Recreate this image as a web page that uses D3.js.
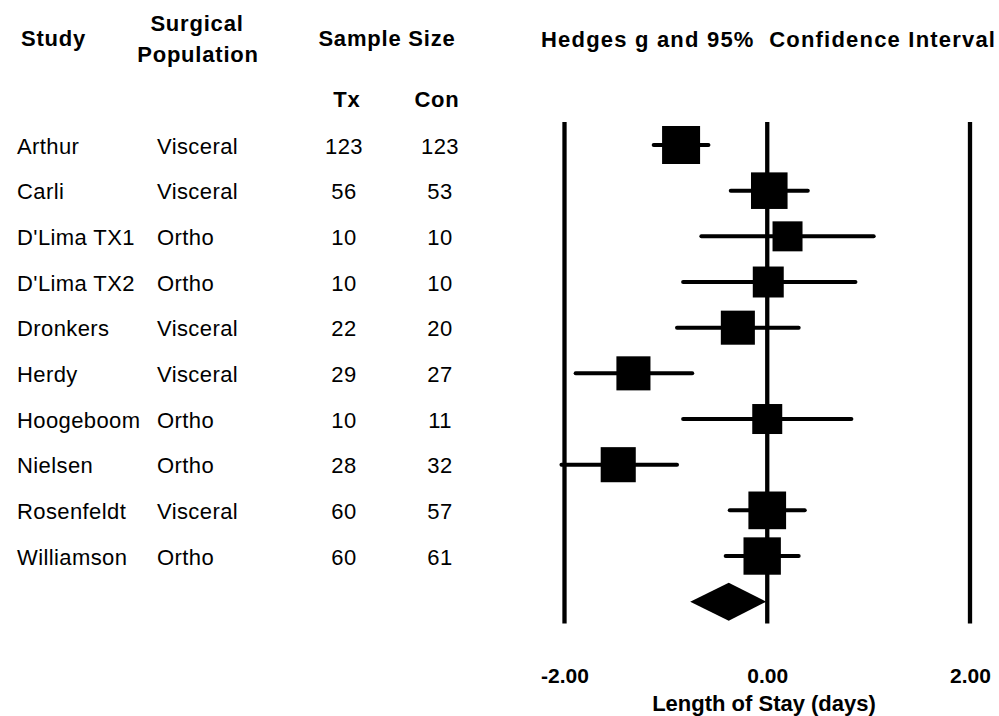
<!DOCTYPE html>
<html>
<head>
<meta charset="utf-8">
<script src="https://cdn.jsdelivr.net/npm/d3@7"></script>
<style>
  html, body { margin: 0; padding: 0; background: #fff; }
  svg { display: block; font-family: "Liberation Sans", Arial, sans-serif; }
  text { fill: #000; white-space: pre; }
  .hdr { font-weight: bold; font-size: 22px; letter-spacing: 0.8px; }
  .title { font-weight: bold; font-size: 22px; letter-spacing: 1.2px; }
  .xlabel { font-weight: bold; font-size: 22px; }
  .body { font-size: 22px; letter-spacing: 0.4px; }
  .tick text { font-weight: bold; font-size: 21px; }
</style>
</head>
<body>
<svg id="chart" width="999" height="716"></svg>
<script>
// Study rows
const studies     = ["Arthur", "Carli", "D'Lima TX1", "D'Lima TX2", "Dronkers", "Herdy", "Hoogeboom", "Nielsen", "Rosenfeldt", "Williamson"];
const populations = ["Visceral", "Visceral", "Ortho", "Ortho", "Visceral", "Visceral", "Ortho", "Ortho", "Visceral", "Ortho"];
const txN         = [123, 56, 10, 10, 22, 29, 10, 28, 60, 60];
const conN        = [123, 53, 10, 10, 20, 27, 11, 32, 57, 61];

// Hedges g with 95% CI (length of stay, days)
const hedgesG = [-0.85, 0.02, 0.20, 0.01, -0.29, -1.32, 0.00, -1.47, 0.00, -0.05];
const ciLow   = [-1.12, -0.36, -0.65, -0.83, -0.89, -1.89, -0.83, -2.03, -0.37, -0.41];
const ciHigh  = [-0.58, 0.40, 1.05, 0.87, 0.31, -0.74, 0.83, -0.89, 0.37, 0.31];
const weights = [12.2, 11.3, 7.6, 8.1, 9.8, 9.8, 7.6, 10.4, 12.0, 11.8];

// Pooled estimate
const pooledG = -0.38, pooledLow = -0.76, pooledHigh = -0.01;

const axisTicks = [-2, 0, 2];

const svg = d3.select("#chart");

const x = d3.scaleLinear().domain([-2, 2]).range([564.5, 970]);
const y = d3.scalePoint().domain(d3.range(studies.length + 1)).range([145, 601.7]);
const size = d3.scaleSqrt().domain([0, d3.max(weights)]).range([0, 38]);

// Column headers
const hdr = svg.append("g").attr("class", "hdr");
hdr.append("text").attr("x", 21).attr("y", 46).text("Study");
hdr.append("text").attr("x", 197).attr("y", 31).attr("text-anchor", "middle").text("Surgical");
hdr.append("text").attr("x", 198).attr("y", 61.5).attr("text-anchor", "middle").text("Population");
hdr.append("text").attr("x", 387).attr("y", 46).attr("text-anchor", "middle").text("Sample Size");
hdr.append("text").attr("x", 347).attr("y", 106.5).attr("text-anchor", "middle").text("Tx");
hdr.append("text").attr("x", 437).attr("y", 106.5).attr("text-anchor", "middle").text("Con");
svg.append("text").attr("class", "title").attr("x", 541).attr("y", 46.5)
  .text("Hedges g and 95%  Confidence Interval");

// Table body
const rows = svg.append("g").attr("class", "body")
  .selectAll("g").data(studies).join("g")
  .attr("transform", (d, i) => `translate(0,${y(i) + 8.5})`);
rows.append("text").attr("x", 17).text(d => d);
rows.append("text").attr("x", 157).text((d, i) => populations[i]);
rows.append("text").attr("x", 344).attr("text-anchor", "middle").text((d, i) => txN[i]);
rows.append("text").attr("x", 440).attr("text-anchor", "middle").text((d, i) => conN[i]);

// Reference lines at tick values
svg.append("g").selectAll("line").data(axisTicks).join("line")
  .attr("x1", d => x(d)).attr("x2", d => x(d))
  .attr("y1", 122).attr("y2", 623.5)
  .attr("stroke", "#000").attr("stroke-width", 4.3);

// Confidence intervals
svg.append("g").selectAll("line").data(studies).join("line")
  .attr("x1", (d, i) => x(ciLow[i])).attr("x2", (d, i) => x(ciHigh[i]))
  .attr("y1", (d, i) => y(i)).attr("y2", (d, i) => y(i))
  .attr("stroke", "#000").attr("stroke-width", 4).attr("stroke-linecap", "round");

// Point estimates, sized by weight
svg.append("g").selectAll("rect").data(studies).join("rect")
  .attr("x", (d, i) => x(hedgesG[i]) - size(weights[i]) / 2)
  .attr("y", (d, i) => y(i) - size(weights[i]) / 2)
  .attr("width", (d, i) => size(weights[i]))
  .attr("height", (d, i) => size(weights[i]))
  .attr("fill", "#000");

// Pooled diamond
const yd = y(studies.length), hd = 19;
svg.append("path")
  .attr("d", `M${x(pooledLow)},${yd} L${x(pooledG)},${yd - hd} L${x(pooledHigh)},${yd} L${x(pooledG)},${yd + hd} Z`)
  .attr("fill", "#000");

// Axis labels
const axis = svg.append("g")
  .attr("transform", "translate(0,668)")
  .call(d3.axisBottom(x).tickValues(axisTicks).tickSize(0).tickPadding(0).tickFormat(d => d.toFixed(2)));
axis.select(".domain").remove();
axis.selectAll(".tick text").attr("dy", 0).attr("y", 15).attr("fill", "#000")
  .style("font-family", "'Liberation Sans', Arial, sans-serif");

svg.append("text").attr("class", "xlabel")
  .attr("x", 764).attr("y", 711).attr("text-anchor", "middle")
  .text("Length of Stay (days)");
</script>
</body>
</html>
